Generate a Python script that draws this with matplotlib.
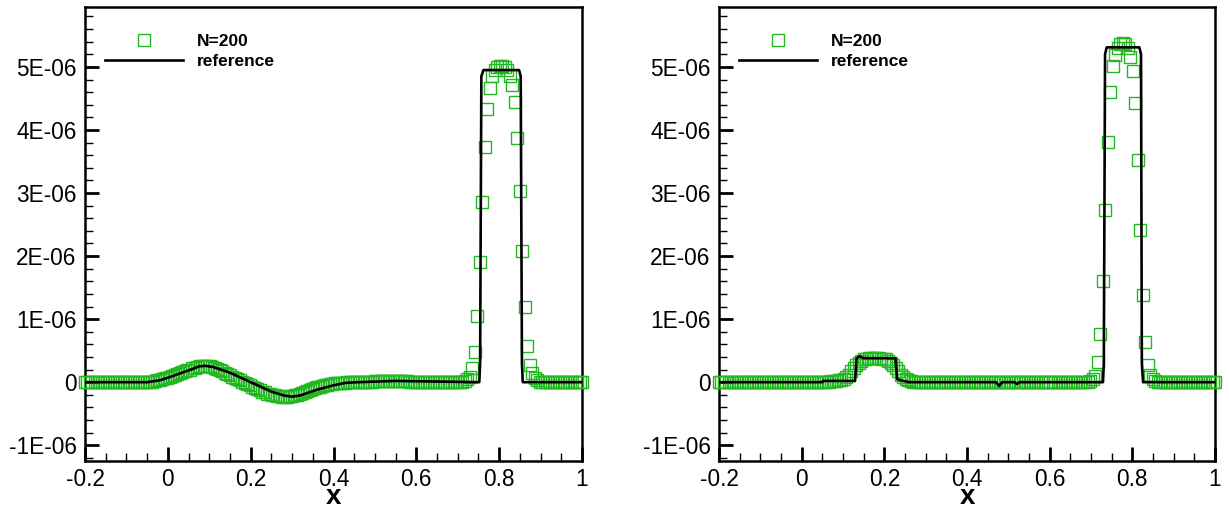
import numpy as np
import matplotlib
matplotlib.use('Agg')
import matplotlib.pyplot as plt
from matplotlib.ticker import MultipleLocator, FuncFormatter

plt.rcParams['font.family'] = ['Liberation Sans', 'DejaVu Sans']

# N=200 solution, cell positions and values (in units of 1E-06)
xN = np.linspace(-0.2, 1.0, 200)

leftN = ([0.0] * 25
         + [0.0, 0.01, 0.01, 0.02, 0.03, 0.04, 0.05, 0.06, 0.07, 0.08, 0.10, 0.11,
            0.13, 0.14, 0.16, 0.17, 0.19, 0.20, 0.22, 0.23, 0.24, 0.25, 0.26, 0.26]
         + [0.26, 0.25, 0.24, 0.23, 0.21, 0.19, 0.17, 0.15, 0.13, 0.11, 0.09, 0.07,
            0.05, 0.03, 0.01, -0.01, -0.03, -0.05, -0.07, -0.09, -0.11, -0.13, -0.15,
            -0.16, -0.18, -0.19, -0.20, -0.21, -0.22, -0.22, -0.23, -0.23, -0.23,
            -0.22, -0.22]
         + [-0.21, -0.20, -0.19, -0.17, -0.16, -0.14, -0.13, -0.11, -0.10, -0.08,
            -0.07, -0.06, -0.05, -0.04, -0.03, -0.03, -0.02, -0.02, -0.01, -0.01,
            -0.01, 0.0, 0.0, 0.0, 0.0]
         + [0.0, 0.01, 0.01, 0.01, 0.01, 0.01, 0.01, 0.02, 0.02, 0.02, 0.02, 0.02,
            0.02, 0.02, 0.02, 0.02, 0.02, 0.02, 0.02, 0.02, 0.02, 0.01, 0.01, 0.01,
            0.01, 0.01, 0.01, 0.01, 0.01, 0.0, 0.0, 0.0, 0.0, 0.0, 0.0, 0.0, 0.0,
            0.0, 0.0, 0.0, 0.0, 0.0, 0.0]
         + [0.02, 0.05, 0.08, 0.22, 0.48, 1.05, 1.90, 2.86, 3.73, 4.34, 4.66, 4.85,
            4.95, 5.0, 5.02, 5.02, 5.0, 4.95, 4.85, 4.72, 4.44, 3.87, 3.03, 2.08,
            1.20, 0.58, 0.27, 0.14, 0.07, 0.03, 0.01]
         + [0.0] * 17)

rightN = ([0.0] * 40
          + [0.0, 0.0, 0.01, 0.01]
          + [0.01, 0.02, 0.02, 0.02, 0.03, 0.04]
          + [0.05, 0.08, 0.12, 0.17, 0.22, 0.27, 0.31, 0.34, 0.36, 0.37]
          + [0.38, 0.38, 0.38, 0.38, 0.38, 0.37, 0.37, 0.36, 0.34, 0.31]
          + [0.27, 0.22, 0.17, 0.12, 0.08, 0.05, 0.03, 0.02, 0.01, 0.0]
          + [0.0] * 68
          + [0.01, 0.02, 0.05, 0.10, 0.32, 0.76, 1.61, 2.73, 3.81, 4.60, 5.02, 5.19,
             5.30, 5.36, 5.38, 5.36, 5.30, 5.16, 4.94, 4.42, 3.52, 2.42, 1.38, 0.64,
             0.27, 0.11, 0.05, 0.02]
          + [0.0] * 24)

# reference solution (breakpoints)
leftRefX = [-0.2, -0.05, -0.02, 0.0, 0.03, 0.06, 0.075, 0.09, 0.11, 0.15, 0.2, 0.25,
            0.28, 0.30, 0.32, 0.36, 0.40, 0.43, 0.46, 0.55, 0.65, 0.752, 0.754,
            0.757, 0.762, 0.848, 0.852, 0.855, 0.857, 1.0]
leftRefY = [0.0, 0.0, 0.03, 0.07, 0.14, 0.21, 0.25, 0.26, 0.24, 0.15, 0.0, -0.15,
            -0.21, -0.23, -0.21, -0.12, -0.05, -0.01, 0.0, 0.02, 0.01, 0.0, 0.3,
            4.85, 4.95, 4.95, 4.85, 0.3, 0.0, 0.0]

rightRefX = [-0.2, 0.05, 0.052, 0.129, 0.133, 0.14, 0.15, 0.227, 0.231, 0.24, 0.26,
             0.47, 0.478, 0.485, 0.515, 0.521, 0.527, 0.729, 0.731, 0.734, 0.738,
             0.817, 0.821, 0.823, 0.826, 1.0]
rightRefY = [0.0, 0.0, 0.02, 0.02, 0.38, 0.41, 0.38, 0.38, 0.05, 0.03, 0.0,
             0.0, -0.06, 0.0, 0.0, -0.03, 0.0, 0.0, 0.3, 5.2, 5.31,
             5.31, 5.2, 0.3, 0.0, 0.0]

green = '#22b822'

def yfmt(v, pos):
    if abs(v) < 1e-12:
        return '0'
    return '%.0E' % v

def xfmt(v, pos):
    if abs(v) < 1e-9:
        return '0'
    return '%g' % v

fig = plt.figure(figsize=(12.29, 5.08), dpi=100)
W, H = 1229.0, 508.0
axL = fig.add_axes([85 / W, 47 / H, 497 / W, 454 / H])
axR = fig.add_axes([719 / W, 47 / H, 496 / W, 454 / H])

panels = [(axL, leftN, leftRefX, leftRefY), (axR, rightN, rightRefX, rightRefY)]
for ax, yN, rx, ry in panels:
    ax.plot(xN, np.array(yN) * 1e-6, 's', ms=8.6, mfc='none', mec=green, mew=1.0,
            clip_on=False, zorder=3, label='N=200')
    ax.plot(rx, np.array(ry) * 1e-6, '-', color='black', lw=1.9, zorder=4,
            label='reference')
    ax.set_xlim(-0.2, 1.0)
    ax.set_ylim(-1.25e-6, 5.95e-6)
    ax.xaxis.set_major_locator(MultipleLocator(0.2))
    ax.xaxis.set_minor_locator(MultipleLocator(0.05))
    ax.yaxis.set_major_locator(MultipleLocator(1e-6))
    ax.yaxis.set_minor_locator(MultipleLocator(2e-7))
    ax.xaxis.set_major_formatter(FuncFormatter(xfmt))
    ax.yaxis.set_major_formatter(FuncFormatter(yfmt))
    ax.tick_params(which='both', direction='in', top=False, right=False,
                   labelsize=16.3)
    ax.tick_params(which='major', length=10, width=2)
    ax.tick_params(which='minor', length=6, width=1)
    ax.tick_params(axis='y', pad=6)
    ax.tick_params(axis='x', pad=5)
    for sp in ax.spines.values():
        sp.set_linewidth(1.8)
    ax.set_xlabel('x', fontsize=20, fontweight='bold', va='center')
    ax.xaxis.set_label_coords(0.5, -0.079)
    leg = ax.legend(loc='upper left', bbox_to_anchor=(0.04, 0.94), frameon=False,
                    numpoints=1, handlelength=4.5, handletextpad=0.8,
                    labelspacing=0.28, borderpad=0, borderaxespad=0,
                    prop={'size': 12.5, 'weight': 'bold'})

fig.savefig('out.png', dpi=100)
